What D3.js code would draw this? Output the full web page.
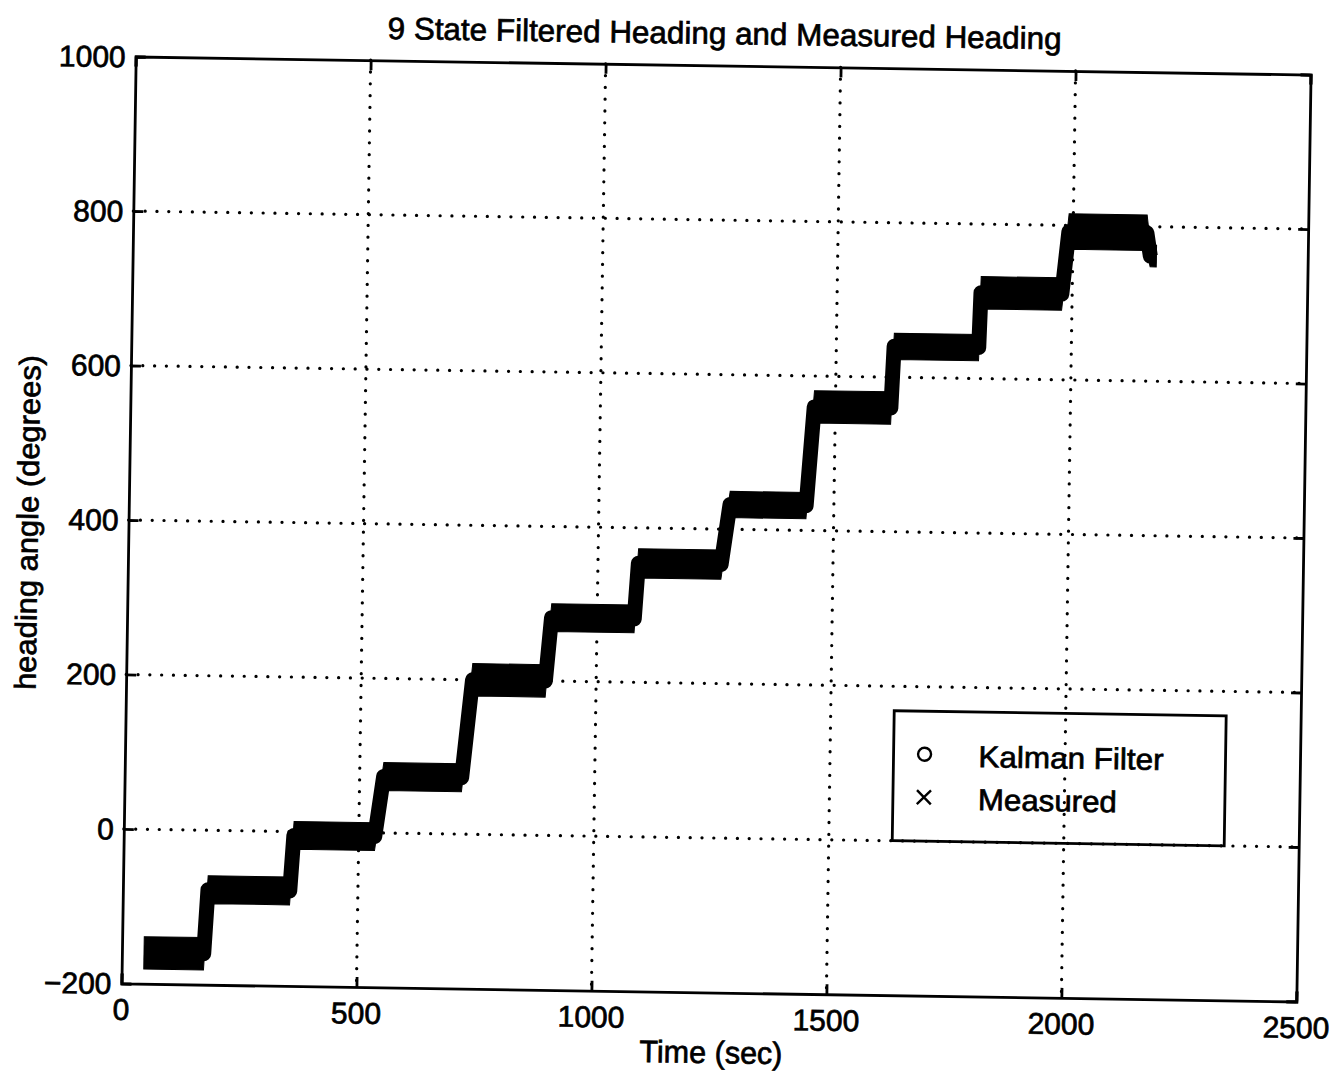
<!DOCTYPE html>
<html>
<head>
<meta charset="utf-8">
<script src="https://cdn.jsdelivr.net/npm/d3@7"></script>
<style>
  html, body { margin: 0; background: #fff; }
  svg { display: block; }
  text { font-family: "Liberation Sans", Arial, Helvetica, sans-serif; fill: #000; stroke: #000; stroke-width: 0.7px; }
</style>
</head>
<body>
<svg id="chart" width="1340" height="1074"></svg>
<script>
// axis ticks
const xTicks = [0, 500, 1000, 1500, 2000, 2500];
const yTicks = [-200, 0, 200, 400, 600, 800, 1000];

// heading plateaus (sec, degrees)
const stepStart = [47, 181, 362, 551, 737, 903, 1086, 1279, 1455, 1623, 1806, 1991, 2165];
const stepEnd = [174, 355, 534, 717, 892, 1079, 1262, 1441, 1618, 1803, 1978, 2157, 2178];
const stepLevel = [-160, -77, -5, 73, 200, 282, 354, 432, 560, 640, 711, 792, 762];
// half height of the noisy measured band on each plateau
const stepSpread = [21, 18, 18, 18, 21, 18, 19, 17, 21, 17, 21, 23, 14];

const legendLabels = ["Kalman Filter", "Measured"];

const W = 1340, H = 1074;
// the scanned page sits slightly skewed, so the whole figure is turned a little
const root = d3.select("#chart").append("g")
  .attr("transform", "rotate(0.88, 716, 529)");

const x = d3.scaleLinear().domain([0, 2500]).range([128.5, 1303.5]);
const y = d3.scaleLinear().domain([-200, 1000]).range([992.5, 65.5]);

// band points: each plateau gives two points (start/end)
const pts = [];
stepStart.forEach((s, i) => {
  pts.push({ t: s, v: stepLevel[i], h: stepSpread[i] });
  pts.push({ t: stepEnd[i], v: stepLevel[i], h: stepSpread[i] });
});

// dotted grid
const grid = root.append("g");
grid.selectAll("line.gx")
  .data(xTicks.slice(1, -1))
  .join("line")
  .attr("x1", (d) => x(d)).attr("x2", (d) => x(d))
  .attr("y1", y(1000)).attr("y2", y(-200));
grid.selectAll("line.gy")
  .data(yTicks.slice(1, -1))
  .join("line")
  .attr("y1", (d) => y(d)).attr("y2", (d) => y(d))
  .attr("x1", x(0)).attr("x2", x(2500));
grid.selectAll("line")
  .attr("stroke", "#000")
  .attr("stroke-width", 3.2)
  .attr("stroke-linecap", "round")
  .attr("stroke-dasharray", "0.1 11.7");

// measured heading band (area + thick centre line)
const band = root.append("g");
const area = d3.area()
  .x((d) => x(d.t))
  .y0((d) => y(d.v - d.h))
  .y1((d) => y(d.v + d.h));
band.append("path")
  .attr("d", area(pts))
  .attr("fill", "#000")
  .attr("stroke", "#000")
  .attr("stroke-width", 1);

const line = d3.line().x((d) => x(d.t)).y((d) => y(d.v));
band.append("path")
  .attr("d", line(pts))
  .attr("fill", "none")
  .attr("stroke", "#000")
  .attr("stroke-width", 15)
  .attr("stroke-linejoin", "round")
  .attr("stroke-linecap", "butt");

// axes with inward ticks on all sides
const tick = 10;
const xb = d3.axisBottom(x).tickValues(xTicks).tickSize(-tick).tickFormat("");
const xt = d3.axisTop(x).tickValues(xTicks).tickSize(-tick).tickFormat("");
const yl = d3.axisLeft(y).tickValues(yTicks).tickSize(-tick).tickFormat("");
const yr = d3.axisRight(y).tickValues(yTicks).tickSize(-tick).tickFormat("");

root.append("g").attr("transform", `translate(0,${y(-200)})`).call(xb);
root.append("g").attr("transform", `translate(0,${y(1000)})`).call(xt);
root.append("g").attr("transform", `translate(${x(0)},0)`).call(yl);
root.append("g").attr("transform", `translate(${x(2500)},0)`).call(yr);
root.selectAll(".domain").attr("stroke", "#000").attr("stroke-width", 2.8);
root.selectAll(".tick line").attr("stroke", "#000").attr("stroke-width", 2.8);

// tick labels
root.append("g").selectAll("text")
  .data(xTicks)
  .join("text")
  .attr("x", (d) => x(d))
  .attr("y", 1029)
  .attr("text-anchor", "middle")
  .attr("font-size", 30)
  .text((d) => d);

root.append("g").selectAll("text")
  .data(yTicks)
  .join("text")
  .attr("x", x(0) - 10)
  .attr("y", (d) => y(d))
  .attr("dy", "0.36em")
  .attr("text-anchor", "end")
  .attr("font-size", 30)
  .text((d) => (d < 0 ? "\u2212" + Math.abs(d) : d));

// titles
root.append("text")
  .attr("x", 717).attr("y", 44)
  .attr("text-anchor", "middle")
  .attr("font-size", 31)
  .attr("textLength", 674).attr("lengthAdjust", "spacingAndGlyphs")
  .text("9 State Filtered Heading and Measured Heading");

root.append("text")
  .attr("x", 719).attr("y", 1063)
  .attr("text-anchor", "middle")
  .attr("font-size", 31)
  .attr("textLength", 143).attr("lengthAdjust", "spacingAndGlyphs")
  .text("Time (sec)");

root.append("text")
  .attr("transform", "translate(38,533) rotate(-90)")
  .attr("text-anchor", "middle")
  .attr("font-size", 30)
  .attr("textLength", 335).attr("lengthAdjust", "spacingAndGlyphs")
  .text("heading angle (degrees)");

// legend
const lg = root.append("g").attr("transform", "translate(4,-6)");
lg.append("rect")
  .attr("x", 893).attr("y", 714)
  .attr("width", 332).attr("height", 130)
  .attr("fill", "none")
  .attr("stroke", "#000")
  .attr("stroke-width", 2.8);

lg.append("circle")
  .attr("cx", 924).attr("cy", 757).attr("r", 6.5)
  .attr("fill", "none").attr("stroke", "#000").attr("stroke-width", 2.4);
lg.append("path")
  .attr("d", "M917,793L931,807M931,793L917,807")
  .attr("stroke", "#000").attr("stroke-width", 2.4);

lg.selectAll("text.lab")
  .data(legendLabels)
  .join("text")
  .attr("x", 978)
  .attr("y", (d, i) => 769 + i * 43)
  .attr("font-size", 30)
  .attr("textLength", (d, i) => [185, 139][i])
  .attr("lengthAdjust", "spacingAndGlyphs")
  .text((d) => d);
</script>
</body>
</html>
